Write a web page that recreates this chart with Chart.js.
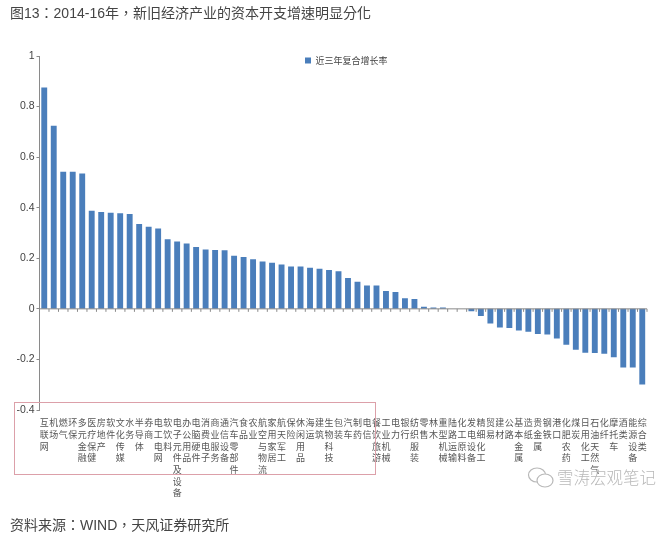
<!DOCTYPE html>
<html>
<head>
<meta charset="utf-8">
<script src="https://cdn.jsdelivr.net/npm/chart.js@4"></script>
<style>
  body { margin: 0; background: #fff; font-family: "Liberation Sans", "Noto Sans CJK TC", sans-serif; color: #444; }
  #wrap { position: relative; width: 660px; height: 538px; overflow: hidden; }
  #wrap canvas { position: absolute; left: 0; top: 0; }
  .txt { position: absolute; white-space: nowrap; }
  #title { left: 10px; top: 3px; font-size: 14px; line-height: 20px; }
  #source { left: 10px; top: 515px; font-size: 14px; line-height: 20px; }
  #mark { left: 557px; top: 467px; font-size: 16.5px; line-height: 20px; color: #b8b8b8; font-family: "Noto Sans CJK SC", sans-serif; font-weight: 300; }
  #icon { position: absolute; left: 527px; top: 466px; }
  #redbox { position: absolute; left: 14px; top: 402px; width: 360px; height: 71px; border: 1.5px solid #dca0a9; }
</style>
</head>
<body>
<div id="wrap">
  <canvas id="bars" width="660" height="538"></canvas>
  <div id="redbox"></div>
  <div class="txt" id="title">图13：2014-16年，新旧经济产业的资本开支增速明显分化</div>
  <svg id="icon" width="28" height="24" fill="#fff" stroke="#b8b8b8" stroke-width="1.2">
    <ellipse cx="10" cy="9" rx="8.5" ry="7"/>
    <ellipse cx="18" cy="14.5" rx="8" ry="6.5"/>
  </svg>
  <div class="txt" id="mark">雪涛宏观笔记</div>
  <div class="txt" id="source">资料来源：WIND，天风证券研究所</div>
</div>
<script>
var categories = ['互联网','机场','燃气','环保','多元金融','医疗保健','房地产','软件','文化传媒','水务','半导体','券商','电工电网','软饮料','电子元件及设备','办公用品','电脑硬件','消费电子','商业服务','通信设备','汽车零部件','食品','农业','航空与物流','家用家居','航天军工','保险','休闲用品','海运','建筑','生物科技','包装','汽车','制药','电信','餐饮旅游','工业机械','电力','银行','纺织服装','零售','林木','重型机械','陆路运输','化工原料','发电设备','精细化工','贸易','建材','公路','基本金属','造纸','贵金属','钢铁','港口','化肥农药','煤炭','日用化工','石油天然气','化纤','摩托车','酒类','能源设备','综合类'];

var growth = [0.875,0.724,0.542,0.542,0.535,0.388,0.383,0.38,0.378,0.375,0.336,0.325,0.318,0.275,0.266,0.258,0.245,0.235,0.233,
  0.232,0.21,0.205,0.196,0.187,0.182,0.175,0.168,0.168,0.163,0.159,0.154,0.149,0.122,0.107,0.092,0.092,0.071,0.067,0.042,0.039,0.008,0.005,0.005,
  0,0,-0.009,-0.028,-0.058,-0.074,-0.076,-0.086,-0.091,-0.099,-0.101,-0.117,-0.142,-0.162,-0.174,-0.175,-0.178,-0.191,-0.232,-0.232,-0.299];

var seriesName = '近三年复合增长率';
var yLabels = {'-0.4':'-0.4','-0.2':'-0.2','0':'0','0.2':'0.2','0.4':'0.4','0.6':'0.6','0.8':'0.8','1':'1'};

var font = '"Noto Sans CJK SC", sans-serif';

// 类目轴的线和刻度画在0的位置,标签留在图的底部
var zeroAxis = {
  id: 'zeroAxis',
  beforeDraw: function (chart) {
    // 图例放在图内上方
    chart.legend.left = 305;
    chart.legend.top = 56;
  },
  afterDatasetsDraw: function (chart) {
    var c = chart.ctx, x = chart.scales.x, y0 = chart.scales.y.getPixelForValue(0);
    var step = (x.right - x.left) / categories.length;
    c.save();
    c.strokeStyle = '#8a8a8a';
    c.lineWidth = 1;
    c.beginPath();
    c.moveTo(x.left, y0);
    c.lineTo(x.right, y0);
    for (var i = 0; i <= categories.length; i++) {
      c.moveTo(x.left + i * step, y0);
      c.lineTo(x.left + i * step, y0 + 3);
    }
    c.stroke();
    c.restore();
  }
};

new Chart(document.getElementById('bars'), {
  type: 'bar',
  data: {
    labels: categories.map(function (s) { return s.split(''); }),
    datasets: [{
      label: seriesName,
      data: growth,
      backgroundColor: '#4a7ebb',
      categoryPercentage: 1,
      barPercentage: 0.62
    }]
  },
  plugins: [zeroAxis],
  options: {
    responsive: false,
    animation: false,
    layout: { padding: { left: 0, right: 13, top: 56, bottom: 0 } },
    plugins: {
      tooltip: { enabled: false },
      legend: {
        position: 'chartArea',
        align: 'start',
        labels: { boxWidth: 6, boxHeight: 6, padding: 0, color: '#444', font: { family: font, size: 9 } }
      }
    },
    scales: {
      x: {
        grid: { display: false },
        border: { display: false },
        afterFit: function (s) { s.height = 128; },
        ticks: {
          autoSkip: false, maxRotation: 0, minRotation: 0, padding: -1,
          color: '#555', font: { family: font, size: 9, lineHeight: 1.3 }
        }
      },
      y: {
        min: -0.4,
        max: 1,
        afterFit: function (s) { s.width = 39.5; },
        grid: { drawOnChartArea: false, color: '#8a8a8a', tickLength: 3 },
        border: { color: '#8a8a8a' },
        ticks: {
          stepSize: 0.2, padding: 2, color: '#444',
          font: { family: '"Liberation Sans"', size: 10.5 },
          callback: function (v) { return yLabels[String(Math.round(v * 10) / 10)]; }
        }
      }
    }
  }
});
</script>
</body>
</html>
